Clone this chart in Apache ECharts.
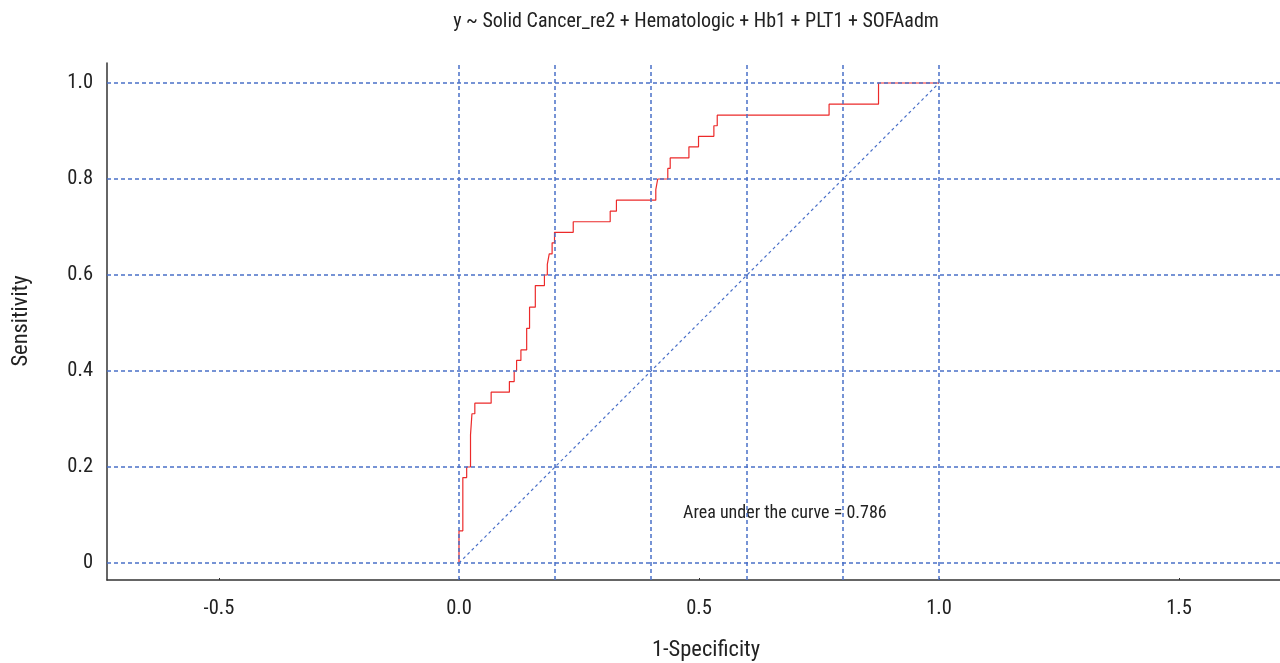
<!DOCTYPE html>
<html>
<head>
<meta charset="utf-8">
<script src="https://cdn.jsdelivr.net/npm/echarts@6/dist/echarts.min.js"></script>
<style>
html,body{margin:0;padding:0;background:#fff;}
#chart{width:1280px;height:663px;}
</style>
</head>
<body>
<div id="chart"></div>
<script>
// ROC curve vertices (1-specificity, sensitivity)
var fpr = [0, 0, 0.008, 0.016, 0.024, 0.027, 0.033, 0.067, 0.105, 0.115, 0.120, 0.129, 0.141, 0.147, 0.159, 0.178, 0.184, 0.188, 0.194, 0.199, 0.238, 0.315, 0.328, 0.410, 0.414, 0.435, 0.440, 0.479, 0.499, 0.531, 0.538, 0.771, 0.874, 1.0];
var tpr = [0, 0.067, 0.178, 0.200, 0.267, 0.311, 0.333, 0.356, 0.378, 0.400, 0.422, 0.444, 0.489, 0.533, 0.578, 0.600, 0.622, 0.644, 0.667, 0.689, 0.711, 0.733, 0.756, 0.778, 0.800, 0.822, 0.844, 0.867, 0.889, 0.911, 0.933, 0.956, 1.0, 1.0];
var refLine = [[0, 0], [1, 1]];
var gridX = [0, 0.2, 0.4, 0.6, 0.8, 1.0];
var gridY = [0, 0.2, 0.4, 0.6, 0.8, 1.0];
var xTicks = [-0.5, 0, 0.5, 1.0, 1.5];
var yTicks = [0, 0.2, 0.4, 0.6, 0.8, 1.0];
var titleText = 'y ~ Solid Cancer_re2 + Hematologic + Hb1 + PLT1 + SOFAadm';
var aucText = 'Area under the curve = 0.786';
var xName = '1-Specificity';
var yName = 'Sensitivity';

var FONT = '"Liberation Sans Narrow", "Roboto Condensed", "DejaVu Sans Condensed", sans-serif';
var BLUE = '#4a70c8';

var rocData = fpr.map(function (x, i) { return [x, tpr[i]]; });

var chart = echarts.init(document.getElementById('chart'), null, {renderer: 'canvas'});
chart.setOption({
  animation: false,
  backgroundColor: '#ffffff',
  grid: {left: 107, top: 63, right: 0, bottom: 83, containLabel: false},
  xAxis: {
    type: 'value', min: -0.7333, max: 1.7104,
    axisLine: {show: true, onZero: false, lineStyle: {color: '#333', width: 1.5}},
    axisTick: {show: true, customValues: xTicks, length: 2, inside: true, lineStyle: {color: '#333'}},
    axisLabel: {customValues: xTicks, color: '#222', fontFamily: FONT, fontSize: 20.5, margin: 18,
      formatter: function (v) { return v.toFixed(1); }},
    splitLine: {show: false}
  },
  yAxis: {
    type: 'value', min: -0.0354, max: 1.0417,
    axisLine: {show: true, onZero: false, lineStyle: {color: '#333', width: 1.5}},
    axisTick: {show: false},
    axisLabel: {customValues: yTicks, color: '#222', fontFamily: FONT, fontSize: 20.5, margin: 14,
      padding: [5, 0, 0, 0],
      formatter: function (v) { return v === 0 ? '0' : v.toFixed(1); }},
    splitLine: {show: false}
  },
  graphic: [
    {type: 'text', x: 696, y: 22, style: {text: titleText, fontFamily: FONT, fontSize: 20, fill: '#222', align: 'center', verticalAlign: 'middle'}},
    {type: 'text', x: 706, y: 650, style: {text: xName, fontFamily: FONT, fontSize: 22.5, fill: '#222', align: 'center', verticalAlign: 'middle'}},
    {type: 'text', x: 21, y: 321, rotation: Math.PI / 2, style: {text: yName, fontFamily: FONT, fontSize: 22.5, fill: '#222', align: 'center', verticalAlign: 'middle'}},
    {type: 'text', x: 683, y: 513, style: {text: aucText, fontFamily: FONT, fontSize: 18, fill: '#222', align: 'left', verticalAlign: 'middle'}}
  ],
  series: [
    {
      type: 'line', data: [], silent: true, color: BLUE,
      markLine: {
        silent: true, symbol: ['none', 'none'], label: {show: false},
        lineStyle: {color: BLUE, type: [4, 3], width: 1.5, opacity: 1},
        emphasis: {disabled: true},
        data: gridX.map(function (v) { return {xAxis: v}; })
          .concat(gridY.map(function (v) { return {yAxis: v}; }))
      }
    },
    {
      type: 'line', data: refLine, showSymbol: false, silent: true, color: BLUE,
      lineStyle: {color: BLUE, type: [3, 3], width: 1.2}
    },
    {
      type: 'line', data: rocData, step: 'end', showSymbol: false, silent: true, color: '#ec2a2a',
      lineStyle: {color: '#ec2a2a', width: 1.2}
    }
  ]
});
</script>
</body>
</html>
